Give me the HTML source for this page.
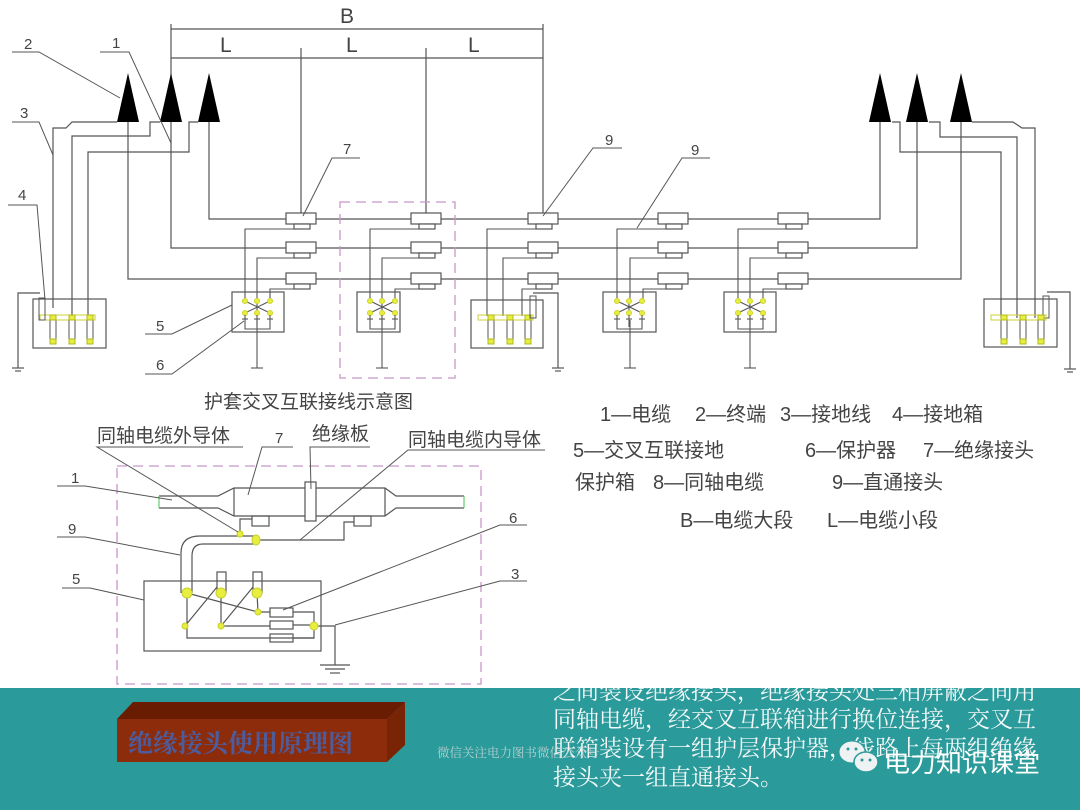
<!DOCTYPE html>
<html><head><meta charset="utf-8"><style>
html,body{margin:0;padding:0;background:#fff;}
svg{display:block;}
text{font-family:"Liberation Sans","Noto Sans CJK SC",sans-serif;}
text.sf{font-family:"Noto Serif CJK SC","Liberation Serif",serif;}
</style></head><body>
<svg width="1080" height="810" viewBox="0 0 1080 810" xmlns="http://www.w3.org/2000/svg">
<rect width="1080" height="810" fill="#fff"/>
<g stroke="#555" stroke-width="1.2" fill="none">
<line x1="171" y1="29" x2="543" y2="29"/>
<line x1="171" y1="58" x2="543" y2="58"/>
<line x1="171" y1="24" x2="171" y2="76"/>
<line x1="301" y1="48" x2="301" y2="213"/>
<line x1="426" y1="48" x2="426" y2="213"/>
<line x1="543" y1="24" x2="543" y2="213"/>
<polyline points="128,110 128,279 286,279"/>
<polyline points="171,110 171,248 286,248"/>
<polyline points="209,110 209,219 286,219"/>
<line x1="316" y1="219" x2="411" y2="219"/><line x1="441" y1="219" x2="528" y2="219"/><line x1="558" y1="219" x2="658" y2="219"/><line x1="688" y1="219" x2="778" y2="219"/><polyline points="808,219 880,219 880,110"/>
<line x1="316" y1="248" x2="411" y2="248"/><line x1="441" y1="248" x2="528" y2="248"/><line x1="558" y1="248" x2="658" y2="248"/><line x1="688" y1="248" x2="778" y2="248"/><polyline points="808,248 917,248 917,110"/>
<line x1="316" y1="279" x2="411" y2="279"/><line x1="441" y1="279" x2="528" y2="279"/><line x1="558" y1="279" x2="658" y2="279"/><line x1="688" y1="279" x2="778" y2="279"/><polyline points="808,279 961,279 961,110"/>
<polyline points="53,308 53,128 66,128 72,122 117,122"/>
<polyline points="72,318 72,136 150,136 150,122 160,122"/>
<polyline points="88,318 88,152 189,152 189,122 198,122"/>
<polyline points="892,122 900,122 900,152 1001,152 1001,318"/>
<polyline points="929,122 940,122 940,137 1017,137 1017,318"/>
<polyline points="972,122 1013,122 1022,128 1035,128 1035,318"/>
<rect x="33" y="299" width="73" height="49"/>
<rect x="984" y="299" width="73" height="48"/>
<rect x="471" y="300" width="72" height="48"/>
<polyline points="40,293 18,293 18,368"/><line x1="12" y1="368" x2="24" y2="368"/><line x1="15" y1="371" x2="21" y2="371"/>
<polyline points="1047,292 1070,292 1070,369"/><line x1="1064" y1="369" x2="1076" y2="369"/><line x1="1067" y1="372" x2="1073" y2="372"/>
<polyline points="533,293 558,293 558,368"/><line x1="552" y1="368" x2="564" y2="368"/><line x1="555" y1="371" x2="561" y2="371"/>
<rect x="232" y="292" width="52" height="40"/>
<rect x="357" y="292" width="43" height="40"/>
<rect x="603" y="292" width="53" height="40"/>
<rect x="724" y="292" width="52" height="40"/>
</g>
<defs><g id="jt"><rect x="0" y="-6" width="30" height="11" fill="#fff" stroke="#555" stroke-width="1.2"/><rect x="8" y="5" width="16" height="5" fill="#fff" stroke="#555" stroke-width="1.2"/></g>
<g id="xb" stroke="#555" stroke-width="1.1" fill="none">
<line x1="0" y1="0" x2="25" y2="12"/><line x1="25" y1="0" x2="0" y2="12"/><line x1="12" y1="0" x2="12" y2="12"/>
<g fill="#e8ee40" stroke="#cfd830"><circle cx="0" cy="0" r="2.5"/><circle cx="12" cy="0" r="2.5"/><circle cx="25" cy="0" r="2.5"/><circle cx="0" cy="12" r="2.5"/><circle cx="12" cy="12" r="2.5"/><circle cx="25" cy="12" r="2.5"/></g>
<line x1="0" y1="14" x2="0" y2="26"/><line x1="12" y1="14" x2="12" y2="26"/><line x1="25" y1="14" x2="25" y2="26"/>
<line x1="-3" y1="18" x2="3" y2="18"/><line x1="9" y1="18" x2="15" y2="18"/><line x1="22" y1="18" x2="28" y2="18"/>
<polyline points="0,26 0,28 25,28 25,26"/>
</g>
<g id="gb" stroke="#555" stroke-width="1" fill="none">
<rect x="0" y="0" width="55" height="5" stroke="#c8d030"/>
<rect x="10" y="4" width="6" height="24"/><rect x="29" y="4" width="6" height="24"/><rect x="47" y="4" width="6" height="24"/>
<g fill="#e8ee40" stroke="#b0b820"><rect x="10" y="0" width="6" height="5"/><rect x="29" y="0" width="6" height="5"/><rect x="47" y="0" width="6" height="5"/><rect x="10" y="24" width="6" height="5"/><rect x="29" y="24" width="6" height="5"/><rect x="47" y="24" width="6" height="5"/></g>
</g>
</defs>
<use href="#jt" x="286" y="219"/><use href="#jt" x="286" y="248"/><use href="#jt" x="286" y="279"/>
<use href="#jt" x="411" y="219"/><use href="#jt" x="411" y="248"/><use href="#jt" x="411" y="279"/>
<use href="#jt" x="528" y="219"/><use href="#jt" x="528" y="248"/><use href="#jt" x="528" y="279"/>
<use href="#jt" x="658" y="219"/><use href="#jt" x="658" y="248"/><use href="#jt" x="658" y="279"/>
<use href="#jt" x="778" y="219"/><use href="#jt" x="778" y="248"/><use href="#jt" x="778" y="279"/>
<g stroke="#555" stroke-width="1.1" fill="none">
<polyline points="294,229 245,229 245,300"/><polyline points="294,258 257,258 257,300"/><polyline points="294,289 270,289 270,300"/><line x1="257" y1="320" x2="257" y2="368"/>
<polyline points="419,229 370,229 370,300"/><polyline points="419,258 382,258 382,300"/><polyline points="419,289 395,289 395,300"/><line x1="382" y1="320" x2="382" y2="368"/>
<polyline points="666,229 617,229 617,300"/><polyline points="666,258 630,258 630,300"/><polyline points="666,289 643,289 643,300"/><line x1="630" y1="320" x2="630" y2="368"/>
<polyline points="786,229 738,229 738,300"/><polyline points="786,258 750,258 750,300"/><polyline points="786,289 763,289 763,300"/><line x1="750" y1="320" x2="750" y2="368"/>
<polyline points="536,229 487,229 487,316"/><polyline points="536,258 503,258 503,316"/><polyline points="536,289 522,289 522,316"/>
<g><line x1="251" y1="368" x2="263" y2="368"/><line x1="376" y1="368" x2="388" y2="368"/><line x1="624" y1="368" x2="636" y2="368"/><line x1="744" y1="368" x2="756" y2="368"/></g>
</g>
<use href="#xb" x="245" y="301"/><use href="#xb" x="370" y="301"/><use href="#xb" x="617" y="301"/><use href="#xb" x="738" y="301"/>
<use href="#gb" x="40" y="315"/><use href="#gb" x="478" y="315"/>
<g stroke="#555" fill="none" stroke-width="1"><rect x="39" y="298" width="6" height="22"/><rect x="530" y="296" width="6" height="22"/><rect x="1043" y="296" width="6" height="22"/></g>
<use href="#gb" x="991" y="315"/>
<g fill="#000">
<polygon points="128,73 117,122 139,122"/><polygon points="171,73 160,122 182,122"/><polygon points="209,73 198,122 220,122"/>
<polygon points="880,73 869,122 891,122"/><polygon points="917,73 906,122 928,122"/><polygon points="961,73 950,122 972,122"/>
</g>
<rect x="340" y="202" width="115" height="176" fill="none" stroke="#c896c8" stroke-width="1.3" stroke-dasharray="10,6"/>
<g stroke="#555" stroke-width="1" fill="none">
<polyline points="12,52 39,52 120,98"/><polyline points="100,52 129,52 171,143"/>
<polyline points="12,122 39,122 53,155"/><polyline points="8,205 37,205 45,300"/>
<polyline points="145,334 172,334 232,305"/><polyline points="145,374 172,374 244,321"/>
<polyline points="360,158 332,158 303,216"/><polyline points="622,148 593,148 543,216"/><polyline points="710,158 682,158 637,228"/>
</g>
<g fill="#444" font-size="15">
<text x="24" y="49">2</text><text x="112" y="48">1</text><text x="20" y="118">3</text><text x="18" y="200">4</text>
<text x="156" y="331">5</text><text x="156" y="370">6</text><text x="343" y="154">7</text><text x="605" y="145">9</text><text x="691" y="155">9</text>
</g>
<g fill="#444" font-size="21"><text x="340" y="23">B</text><text x="220" y="52">L</text><text x="346" y="52">L</text><text x="468" y="52">L</text></g>
<text x="204" y="408" font-size="19" fill="#444">护套交叉互联接线示意图</text>
<g fill="#444" font-size="20">
<text x="600" y="421">1—电缆</text><text x="695" y="421">2—终端</text><text x="780" y="421">3—接地线</text><text x="892" y="421">4—接地箱</text>
<text x="573" y="457">5—交叉互联接地</text><text x="805" y="457">6—保护器</text><text x="923" y="457">7—绝缘接头</text>
<text x="575" y="489">保护箱</text><text x="653" y="489">8—同轴电缆</text><text x="832" y="489">9—直通接头</text>
<text x="680" y="527">B—电缆大段</text><text x="827" y="527">L—电缆小段</text>
</g>
<rect x="117" y="466" width="364" height="218" fill="none" stroke="#c896c8" stroke-width="1.3" stroke-dasharray="10,6"/>
<g stroke="#555" stroke-width="1.2" fill="none">
<polyline points="159,496 218,496 234,488 385,488 396,496 464,496"/>
<polyline points="159,508 218,508 234,516 385,516 396,508 464,508"/>
<line x1="234" y1="488" x2="234" y2="516"/><line x1="385" y1="488" x2="385" y2="516"/>
<rect x="305" y="482" width="11" height="39" fill="#fff"/>
<rect x="252" y="516" width="17" height="10"/><rect x="354" y="516" width="17" height="10"/>
<polyline points="252,519 240,519 240,532"/>
<polyline points="258,540 344,540 344,522 354,522"/>
<path d="M258,536 L200,536 Q181,536 181,553 L181,593"/>
<path d="M258,544 L203,544 Q192,544 192,556 L192,593"/>
<rect x="144" y="581" width="177" height="70"/>
<rect x="217" y="572" width="9" height="21"/><rect x="253" y="572" width="9" height="21"/>
<rect x="270" y="608" width="23" height="9"/><rect x="270" y="621" width="23" height="8"/><rect x="270" y="634" width="23" height="8"/>
<polyline points="187,593 258,612 270,612"/><line x1="258" y1="612" x2="257" y2="593"/>
<polyline points="187,597 187,638 314,638 314,612 293,612"/>
<line x1="293" y1="625" x2="314" y2="625"/><line x1="293" y1="638" x2="314" y2="638"/>
<polyline points="221,593 221,626 270,626"/>
<line x1="185" y1="626" x2="217" y2="587"/><line x1="221" y1="626" x2="253" y2="587"/>
<polyline points="314,626 335,626 335,665"/>
<line x1="320" y1="665" x2="350" y2="665"/><line x1="325" y1="669" x2="345" y2="669"/><line x1="330" y1="673" x2="340" y2="673"/>
</g>
<g fill="#e8ee40" stroke="#c8d028" stroke-width="1">
<circle cx="187" cy="593" r="5"/><circle cx="221" cy="593" r="5"/><circle cx="257" cy="593" r="5"/>
<circle cx="240" cy="534" r="3"/><ellipse cx="256" cy="540" rx="4" ry="5"/>
<circle cx="258" cy="612" r="3"/><circle cx="185" cy="626" r="3"/><circle cx="221" cy="626" r="3"/><circle cx="314" cy="626" r="4"/>
</g>
<g stroke="#6c6" stroke-width="1.2"><line x1="159" y1="496" x2="159" y2="508"/><line x1="464" y1="496" x2="464" y2="508"/></g>
<g stroke="#555" stroke-width="1" fill="none">
<polyline points="243,447 97,447 238,532"/><polyline points="293,447 262,447 248,495"/>
<polyline points="370,447 310,447 311,489"/><polyline points="545,450 408,450 300,540"/>
<polyline points="57,486 85,486 172,500"/><polyline points="57,537 85,537 180,555"/>
<polyline points="62,588 90,588 144,600"/><polyline points="527,525 500,525 283,610"/>
<polyline points="527,581 500,581 335,625"/>
</g>
<g fill="#444" font-size="19">
<text x="97" y="442">同轴电缆外导体</text><text x="312" y="440">绝缘板</text><text x="408" y="446">同轴电缆内导体</text>
</g>
<g fill="#444" font-size="15">
<text x="275" y="443">7</text><text x="71" y="483">1</text><text x="68" y="534">9</text><text x="72" y="584">5</text><text x="509" y="523">6</text><text x="511" y="579">3</text>
</g>
<rect x="0" y="688" width="1080" height="122" fill="#2a9a9a"/>
<g font-size="23" fill="#f4f8f8">
<text class="sf" x="553" y="699">之间装设绝缘接头，绝缘接头处三相屏蔽之间用</text>
<text class="sf" x="553" y="727">同轴电缆，经交叉互联箱进行换位连接，交叉互</text>
<text class="sf" x="553" y="756">联箱装设有一组护层保护器，线路上每两组绝缘</text>
<text class="sf" x="553" y="785">接头夹一组直通接头。</text>
</g>
<rect x="540" y="660" width="540" height="28" fill="#fff"/>
<polygon points="117,719 133,702 405,702 387,719" fill="#6a1c02"/>
<polygon points="387,719 405,702 405,745 387,762" fill="#7a2406"/>
<rect x="117" y="719" width="270" height="43" fill="#8c2c0a"/>
<text class="sf" x="128" y="752" font-size="25" font-weight="bold" fill="#4e5c9c">绝缘接头使用原理图</text>
<text class="sf" x="437" y="757" font-size="12.5" fill="#b8d0d0">微信关注电力图书微信公众号</text>
<g>
<ellipse cx="852" cy="752" rx="13" ry="11" fill="#eef2f2" stroke="#2a9a9a" stroke-width="1"/>
<ellipse cx="866" cy="762" rx="12" ry="10" fill="#eef2f2" stroke="#2a9a9a" stroke-width="1.5"/>
<circle cx="848" cy="749" r="1.5" fill="#2a9a9a"/><circle cx="856" cy="749" r="1.5" fill="#2a9a9a"/>
<circle cx="862" cy="760" r="1.5" fill="#2a9a9a"/><circle cx="870" cy="760" r="1.5" fill="#2a9a9a"/>
</g>
<text x="884" y="772" font-size="26" fill="#fff">电力知识课堂</text>
</svg>
</body></html>
